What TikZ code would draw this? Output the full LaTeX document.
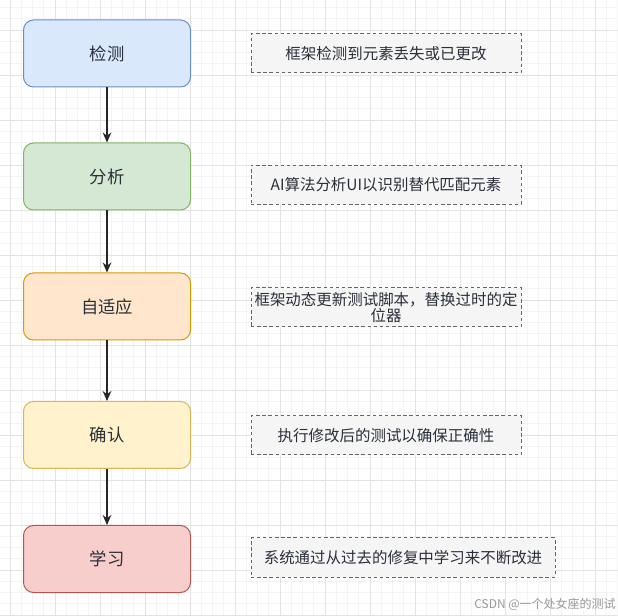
\documentclass[tikz,border=0pt]{standalone}
\usepackage{fontspec}
\setmainfont{Noto Sans CJK SC}
\usepackage{tikz}
\usetikzlibrary{positioning, arrows.meta}

\definecolor{gridminor}{HTML}{F4F4F4}
\definecolor{gridmajor}{HTML}{E3E3E3}
\definecolor{labeltext}{HTML}{2B2F3A}
\definecolor{notefill}{HTML}{F5F5F5}
\definecolor{notedraw}{HTML}{666666}
\definecolor{blueline}{HTML}{6C8EBF}
\definecolor{bluefill}{HTML}{DAE8FC}
\definecolor{greenline}{HTML}{82B366}
\definecolor{greenfill}{HTML}{D5E8D4}
\definecolor{orangeline}{HTML}{D79B00}
\definecolor{orangefill}{HTML}{FFE6CC}
\definecolor{yellowline}{HTML}{D6B656}
\definecolor{yellowfill}{HTML}{FFF2CC}
\definecolor{redline}{HTML}{B85450}
\definecolor{redfill}{HTML}{F8CECC}

\begin{document}
\begin{tikzpicture}[
  x=0.75pt, y=-0.75pt,
  stage/.style={
    draw,
    rounded corners=7.5pt,
    align=center,
    line width=0.75pt,
    minimum width=125.25pt,
    minimum height=50.25pt,
    text=labeltext,
    font=\fontsize{13}{15}\selectfont
  },
  note/.style={
    draw=notedraw,
    fill=notefill,
    dash pattern=on 2.6pt off 2pt,
    line width=0.75pt,
    align=center,
    inner sep=1pt,
    minimum width=202.5pt,
    minimum height=29.25pt,
    text=labeltext,
    font=\fontsize{11.6}{12}\selectfont
  },
  flow/.style={-{Stealth[length=7.5pt, width=6.5pt]}, line width=0.9pt, black!85},
  wmark/.style={text=black!40, font=\fontsize{9}{10}\selectfont, inner sep=0pt}
]
\useasboundingbox (0,0) rectangle (618,616);
\fill[white] (0,0) rectangle (618,616);

% grid
\foreach \gx in {10,21.25,...,618}
  \draw[gridminor, line width=0.5pt] (\gx,0) -- (\gx,616);
\foreach \gy in {7.5,18.75,...,616}
  \draw[gridminor, line width=0.5pt] (0,\gy) -- (618,\gy);
\foreach \gx in {10,55,...,618}
  \draw[gridmajor, line width=0.6pt] (\gx,0) -- (\gx,616);
\foreach \gy in {30,75,...,616}
  \draw[gridmajor, line width=0.6pt] (0,\gy) -- (618,\gy);

% steps
\node[stage, draw=blueline, fill=bluefill] (detect) at (107,53.5) {检测};
\node[stage, draw=greenline, fill=greenfill] (analyze) at (107,176.5) {分析};
\node[stage, draw=orangeline, fill=orangefill] (adapt) at (107,306.5) {自适应};
\node[stage, draw=yellowline, fill=yellowfill] (confirm) at (107,435) {确认};
\node[stage, draw=redline, fill=redfill] (learn) at (107,559) {学习};

\draw[flow] (detect) -- (analyze);
\draw[flow] (analyze) -- (adapt);
\draw[flow] (adapt) -- (confirm);
\draw[flow] (confirm) -- (learn);

% notes
\node[note] (detectnote) at (386,53.5) {框架检测到元素丢失或已更改};
\node[note] (analyzenote) at (386,185) {AI算法分析UI以识别替代匹配元素};
\node[note] (adaptnote) at (386,307.5) {框架动态更新测试脚本，替换过时的定\\位器};
\node[note] (confirmnote) at (386,435.5) {执行修改后的测试以确保正确性};
\node[note, minimum width=228pt] (learnnote) at (403,557.5) {系统通过从过去的修复中学习来不断改进};

\node[wmark, anchor=east] (credit) at (616,604) {CSDN @一个处女座的测试};
\end{tikzpicture}
\end{document}
